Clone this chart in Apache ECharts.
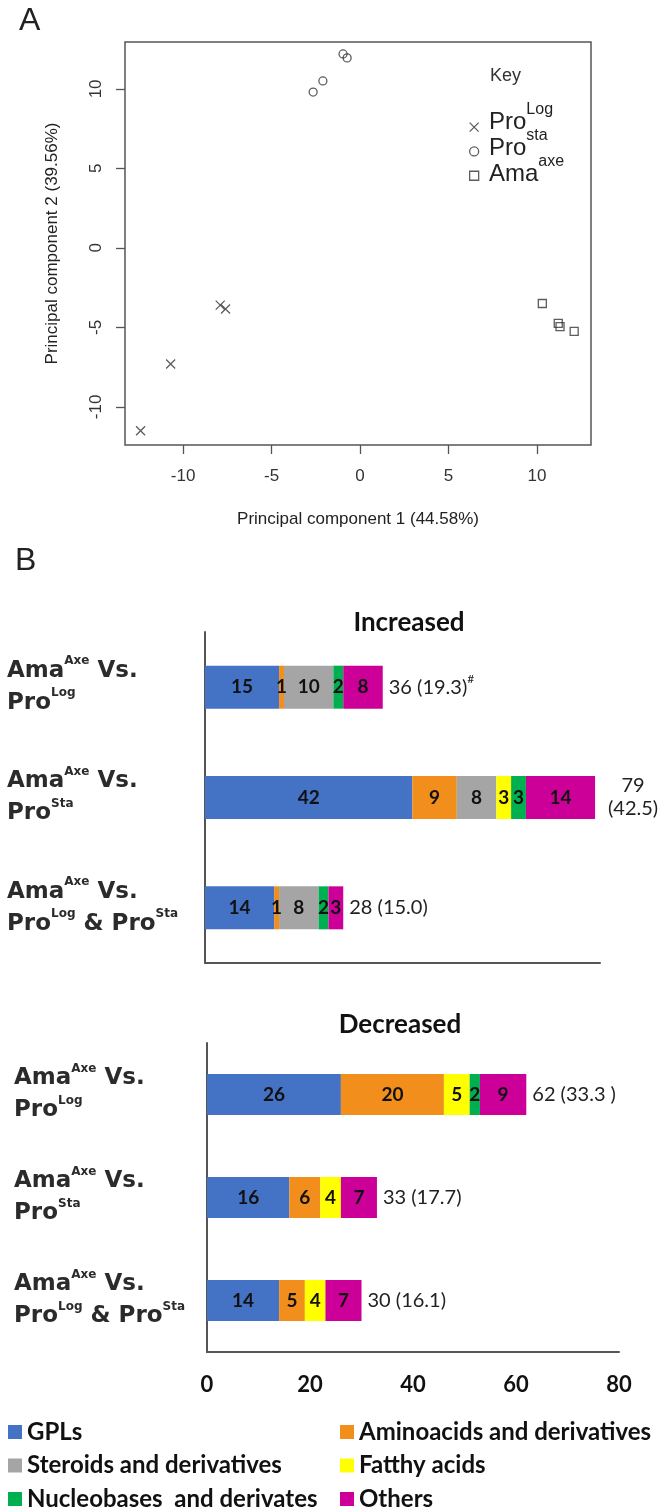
<!DOCTYPE html>
<html>
<head>
<meta charset="utf-8">
<script src="https://cdn.jsdelivr.net/npm/echarts@6.0.0/dist/echarts.min.js"></script>
<style>
html,body{margin:0;padding:0;background:#fff;}
#chart{width:662px;height:1511px;}
</style>
</head>
<body>
<div id="chart"></div>
<script>
// ---------- Panel A data (PCA scores) ----------
const proLogX = [-12.4, -10.7, -7.9, -7.6];
const proLogY = [-11.5, -7.3, -3.6, -3.85];
const proStaX = [-2.65, -2.1, -0.96, -0.73];
const proStaY = [9.8, 10.5, 12.2, 11.95];
const amaAxeX = [10.3, 11.2, 11.3, 12.1];
const amaAxeY = [-3.5, -4.75, -4.95, -5.25];
const scatterNames = ['Pro^{Log}', 'Pro^{sta}', 'Ama^{axe}'];
const xTicksA = [-10, -5, 0, 5, 10];
const yTicksA = [-10, -5, 0, 5, 10];
const xTitleA = 'Principal component 1 (44.58%)';
const yTitleA = 'Principal component 2 (39.56%)';

// ---------- Panel B data ----------
const classNames = ['GPLs', 'Aminoacids and derivatives', 'Steroids and derivatives', 'Fatthy acids', 'Nucleobases  and derivates', 'Others'];
const classColors = ['#4472c4', '#f28e1c', '#a5a5a5', '#ffff00', '#00b050', '#cc0099'];
const catInc = ['Ama^{Axe} Vs.\nPro^{Log}', 'Ama^{Axe} Vs.\nPro^{Sta}', 'Ama^{Axe} Vs.\nPro^{Log} & Pro^{Sta}'];
const catDec = ['Ama^{Axe} Vs.\nPro^{Log}', 'Ama^{Axe} Vs.\nPro^{Sta}', 'Ama^{Axe} Vs.\nPro^{Log} & Pro^{Sta}'];
const incGPL = [15, 42, 14];
const incAmino = [1, 9, 1];
const incSteroid = [10, 8, 8];
const incFatty = [0, 3, 0];
const incNucleo = [2, 3, 2];
const incOthers = [8, 14, 3];
const decGPL = [26, 16, 14];
const decAmino = [20, 6, 5];
const decSteroid = [0, 0, 0];
const decFatty = [5, 4, 4];
const decNucleo = [2, 0, 0];
const decOthers = [9, 7, 7];
const incTotals = ['36 (19.3)^{#}', '79\n(42.5)', '28 (15.0)'];
const decTotals = ['62 (33.3 )', '33 (17.7)', '30 (16.1)'];
const xTicksB = [0, 20, 40, 60, 80];

// ---------- helpers ----------
function toRich(str, n, s) {
  return str.split('\n').map(function (line) {
    return line.split(/(\^\{[^}]*\})/).filter(function (p) { return p.length; }).map(function (p) {
      return p.indexOf('^{') === 0 ? '{' + s + '|' + p.slice(2, -1) + '}' : '{' + n + '|' + p + '}';
    }).join('');
  }).join('\n');
}
function zip(xs, ys) { return xs.map(function (x, i) { return [x, ys[i]]; }); }

const crossPath = 'path://M0,0L10,10M10,0L0,10';
const symStyle = { color: 'transparent', borderColor: '#333', borderWidth: 1.3 };
const fontA = 'Liberation Sans';
const fontB = 'Lato';
const fontC = 'DejaVu Sans';

const catRich = {
  n: { fontFamily: fontC, fontWeight: 'bold', fontSize: 23, lineHeight: 32, color: '#2b2b2b' },
  s: { fontFamily: fontC, fontWeight: 'bold', fontSize: 12, lineHeight: 12, verticalAlign: 'top', color: '#2b2b2b' }
};
const totRich = {
  t: { fontFamily: fontB, fontSize: 20, lineHeight: 28, color: '#222' },
  tc: { fontFamily: fontB, fontSize: 20, lineHeight: 23, width: 64, align: 'center', color: '#222' },
  ts: { fontFamily: fontB, fontSize: 12, lineHeight: 10, verticalAlign: 'top', color: '#222' }
};

const chart = echarts.init(document.getElementById('chart'), null, { renderer: 'canvas' });

const series = [];
// scatter
const scatterData = [zip(proLogX, proLogY), zip(proStaX, proStaY), zip(amaAxeX, amaAxeY)];
const scatterSymbols = [crossPath, 'circle', 'rect'];
const scatterSizes = [9, 8, 8];
scatterData.forEach(function (d, i) {
  series.push({
    type: 'scatter', name: scatterNames[i], xAxisIndex: 0, yAxisIndex: 0,
    data: d, symbol: scatterSymbols[i], symbolSize: scatterSizes[i],
    itemStyle: symStyle, silent: true
  });
});

function addBars(dataSets, totals, axisIdx, stackName, barW) {
  dataSets.forEach(function (vals, k) {
    series.push({
      type: 'bar', name: classNames[k], stack: stackName,
      xAxisIndex: axisIdx, yAxisIndex: axisIdx, barWidth: barW,
      data: vals, itemStyle: { color: classColors[k] },
      label: {
        show: true, position: 'inside', color: '#111',
        fontFamily: fontB, fontWeight: 'bold', fontSize: 19,
        formatter: function (p) { return p.value ? String(p.value) : ''; }
      },
      silent: true
    });
  });
  series.push({
    type: 'bar', name: 'total_' + stackName, stack: stackName,
    xAxisIndex: axisIdx, yAxisIndex: axisIdx, barWidth: barW,
    data: totals.map(function () { return 0; }),
    itemStyle: { color: 'transparent' },
    label: {
      show: true, position: 'right', distance: 6,
      formatter: function (p) {
        const s = totals[p.dataIndex];
        return toRich(s, s.indexOf('\n') >= 0 ? 'tc' : 't', 'ts');
      },
      rich: totRich
    },
    silent: true
  });
}
addBars([incGPL, incAmino, incSteroid, incFatty, incNucleo, incOthers], incTotals, 1, 'inc', 43);
addBars([decGPL, decAmino, decSteroid, decFatty, decNucleo, decOthers], decTotals, 2, 'dec', 41);

const axisTextA = { fontFamily: fontA, fontSize: 17, color: '#333' };
const legendB = { fontFamily: fontB, fontWeight: 'bold', fontSize: 24, lineHeight: 24, color: '#111' };

const option = {
  animation: false,
  backgroundColor: '#fff',
  title: [
    { text: 'A', left: 19, top: 5, padding: 0, textStyle: { fontFamily: fontA, fontSize: 32, fontWeight: 'normal', color: '#222' } },
    { text: 'Key', left: 490, top: 67, padding: 0, textStyle: { fontFamily: fontA, fontSize: 18, fontWeight: 'normal', color: '#333' } },
    { text: 'B', left: 15, top: 545, padding: 0, textStyle: { fontFamily: fontA, fontSize: 32, fontWeight: 'normal', color: '#222' } },
    { text: 'Increased', left: 409, textAlign: 'center', top: 610, padding: 0, textStyle: { fontFamily: fontB, fontSize: 26, fontWeight: 'bold', color: '#111' } },
    { text: 'Decreased', left: 400, textAlign: 'center', top: 1012, padding: 0, textStyle: { fontFamily: fontB, fontSize: 26, fontWeight: 'bold', color: '#111' } }
  ],
  legend: [
    // Key: text column
    {
      data: scatterNames.map(function (n) { return { name: n, icon: 'none' }; }),
      orient: 'vertical', left: 469, top: 102, padding: 0,
      itemWidth: 9, itemHeight: 9, itemGap: -6,
      selectedMode: false,
      formatter: function (name) { return toRich(name, 'n', 's'); },
      textStyle: {
        rich: {
          n: { fontFamily: fontA, fontSize: 24, lineHeight: 32, verticalAlign: 'bottom', color: '#222', padding: [0, 0, 0, 6] },
          s: { fontFamily: fontA, fontSize: 16, lineHeight: 14, verticalAlign: 'top', color: '#222' }
        }
      }
    },
    // Key: marker column
    {
      data: scatterNames.map(function (n, i) {
        return { name: n, icon: scatterSymbols[i], itemStyle: symStyle };
      }),
      orient: 'vertical', left: 469, top: 122, padding: 0,
      itemWidth: 9, itemHeight: 9, itemGap: 14,
      selectedMode: false,
      formatter: function () { return ''; },
      textStyle: { fontSize: 1, lineHeight: 1 }
    },
    {
      data: [classNames[0], classNames[2], classNames[4]],
      orient: 'vertical', left: 8, top: 1420, padding: 0,
      itemWidth: 14, itemHeight: 14, itemGap: 9.5, icon: 'rect', selectedMode: false,
      textStyle: legendB
    },
    {
      data: [classNames[1], classNames[3], classNames[5]],
      orient: 'vertical', left: 340, top: 1420, padding: 0,
      itemWidth: 14, itemHeight: 14, itemGap: 9.5, icon: 'rect', selectedMode: false,
      textStyle: legendB
    }
  ],
  grid: [
    { left: 125, top: 42, width: 466, height: 403, show: true, borderColor: '#555', borderWidth: 1.5, backgroundColor: 'transparent' },
    { left: 205, top: 632, width: 395, height: 331 },
    { left: 207, top: 1043, width: 412, height: 309 }
  ],
  xAxis: [
    {
      type: 'value', gridIndex: 0, min: -13.28, max: 13.05,
      axisLine: { show: false, onZero: false },
      axisTick: { show: true, inside: false, length: 9, customValues: xTicksA, lineStyle: { color: '#555', width: 1.3 } },
      axisLabel: { show: true, customValues: xTicksA, margin: 23, ...axisTextA },
      splitLine: { show: false },
      name: xTitleA, nameLocation: 'middle', nameGap: 66,
      nameTextStyle: { fontFamily: fontA, fontSize: 17, color: '#222' }
    },
    {
      type: 'value', gridIndex: 1, min: 0, max: 80,
      axisLine: { show: true, lineStyle: { color: '#555', width: 2 } },
      axisTick: { show: false }, axisLabel: { show: false }, splitLine: { show: false }
    },
    {
      type: 'value', gridIndex: 2, min: 0, max: 80, interval: 20,
      axisLine: { show: true, lineStyle: { color: '#555', width: 2 } },
      axisTick: { show: false },
      axisLabel: { show: true, margin: 22, fontFamily: fontB, fontWeight: 'bold', fontSize: 22, color: '#111',
        customValues: xTicksB },
      splitLine: { show: false }
    }
  ],
  yAxis: [
    {
      type: 'value', gridIndex: 0, min: -12.4, max: 12.95,
      axisLine: { show: false, onZero: false },
      axisTick: { show: true, inside: false, length: 9, customValues: yTicksA, lineStyle: { color: '#555', width: 1.3 } },
      axisLabel: { show: true, customValues: yTicksA, rotate: 90, margin: 20, ...axisTextA },
      splitLine: { show: false },
      name: yTitleA, nameLocation: 'middle', nameGap: 64, nameRotate: 90,
      nameTextStyle: { fontFamily: fontA, fontSize: 17, color: '#222' }
    },
    {
      type: 'category', gridIndex: 1, data: catInc, inverse: true,
      axisLine: { show: true, lineStyle: { color: '#555', width: 2 } },
      axisTick: { show: false },
      axisLabel: { show: true, align: 'left', margin: 198, interval: 0, fontFamily: fontC,
        formatter: function (v) { return toRich(v, 'n', 's'); }, rich: catRich }
    },
    {
      type: 'category', gridIndex: 2, data: catDec, inverse: true,
      axisLine: { show: true, lineStyle: { color: '#555', width: 2 } },
      axisTick: { show: false },
      axisLabel: { show: true, align: 'left', margin: 193, interval: 0, fontFamily: fontC,
        formatter: function (v) { return toRich(v, 'n', 's'); }, rich: catRich }
    }
  ],
  series: series
};
chart.setOption(option);
</script>
</body>
</html>
